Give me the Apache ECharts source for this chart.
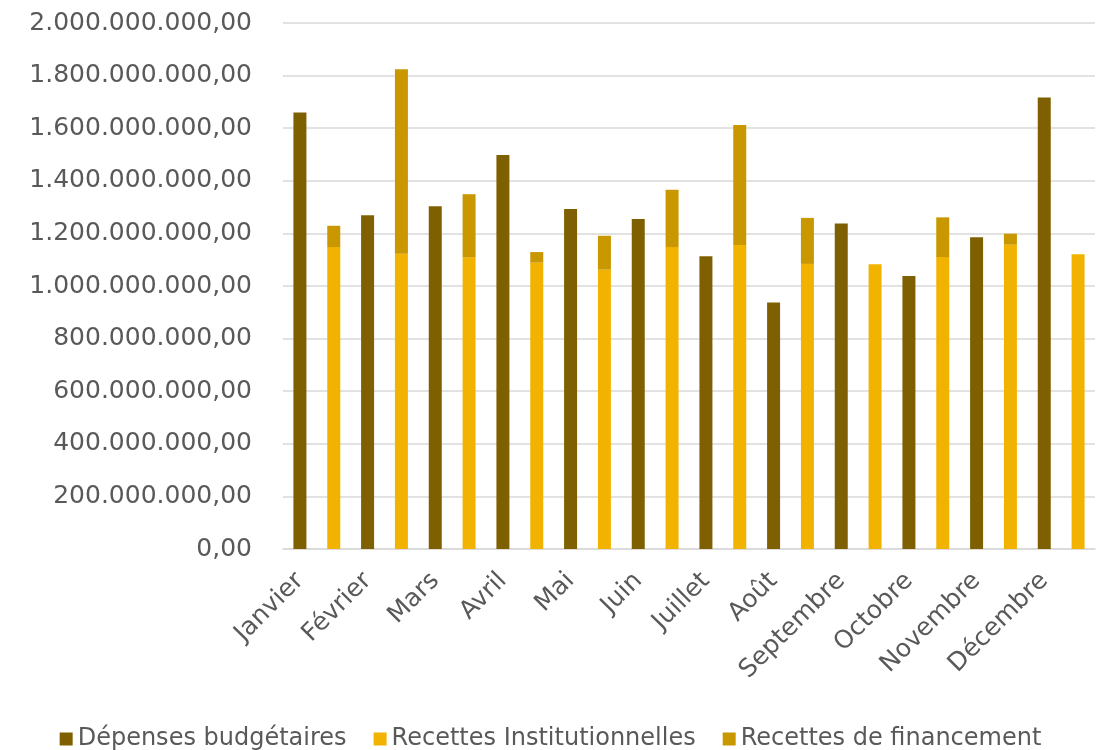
<!DOCTYPE html>
<html>
<head>
<meta charset="utf-8">
<script src="https://cdn.jsdelivr.net/npm/echarts@6/dist/echarts.min.js"></script>
<style>
html,body{margin:0;padding:0;background:#fff;}
#chart{width:1101px;height:750px;}
</style>
</head>
<body>
<div id="chart"></div>
<script>
const months = ['Janvier','Février','Mars','Avril','Mai','Juin','Juillet','Août','Septembre','Octobre','Novembre','Décembre'];
const depenses = [1660e6, 1269e6, 1303e6, 1498e6, 1293e6, 1255e6, 1113e6, 937e6, 1238e6, 1038e6, 1185e6, 1717e6];
const recettesInst = [1148e6, 1123e6, 1109e6, 1089e6, 1062e6, 1148e6, 1156e6, 1084e6, 1083e6, 1110e6, 1157e6, 1121e6];
const recettesFin = [81e6, 701e6, 240e6, 40e6, 129e6, 218e6, 456e6, 175e6, 0, 151e6, 42e6, 0];
const yTicks = {min: 0, max: 2000000000, interval: 200000000};

const categories = [];
const depData = [], instData = [], finData = [];
months.forEach((m, i) => {
  categories.push(m); categories.push('');
  depData.push(depenses[i]); depData.push(null);
  instData.push(null); instData.push(recettesInst[i]);
  finData.push(null); finData.push(recettesFin[i]);
});

function fmt(v) {
  const s = Math.round(v).toString().replace(/\B(?=(\d{3})+(?!\d))/g, '.');
  return s + ',00';
}

const FONT = 'DejaVu Sans';
const chart = echarts.init(document.getElementById('chart'));
chart.setOption({
  animation: false,
  textStyle: {fontFamily: FONT},
  grid: {left: 283, right: 6, top: 23, bottom: 201, containLabel: false},
  legend: {
    top: 722, left: 'center',
    itemWidth: 13, itemHeight: 13, itemGap: 27,
    icon: 'rect',
    textStyle: {fontFamily: FONT, fontSize: 24, color: '#595959'},
    data: ['Dépenses budgétaires', 'Recettes Institutionnelles', 'Recettes de financement']
  },
  xAxis: {
    type: 'category',
    data: categories,
    axisLine: {lineStyle: {color: '#d9d9d9', width: 1.5}},
    axisTick: {show: false},
    axisLabel: {interval: 0, rotate: 45, color: '#595959', fontSize: 25, fontFamily: FONT, margin: 28}
  },
  yAxis: {
    type: 'value',
    min: yTicks.min, max: yTicks.max, interval: yTicks.interval,
    axisLine: {show: false}, axisTick: {show: false},
    splitLine: {lineStyle: {color: '#d9d9d9', width: 1.5}},
    axisLabel: {formatter: fmt, color: '#595959', fontSize: 25, fontFamily: FONT, margin: 31}
  },
  series: [
    {name: 'Dépenses budgétaires', type: 'bar', data: depData, barWidth: 13, barGap: '-100%',
     itemStyle: {color: '#7F6000'}},
    {name: 'Recettes Institutionnelles', type: 'bar', stack: 'rec', data: instData, barWidth: 13, barGap: '-100%',
     itemStyle: {color: '#F2B300'}},
    {name: 'Recettes de financement', type: 'bar', stack: 'rec', data: finData, barWidth: 13, barGap: '-100%',
     itemStyle: {color: '#C99700'}}
  ]
});
</script>
</body>
</html>
